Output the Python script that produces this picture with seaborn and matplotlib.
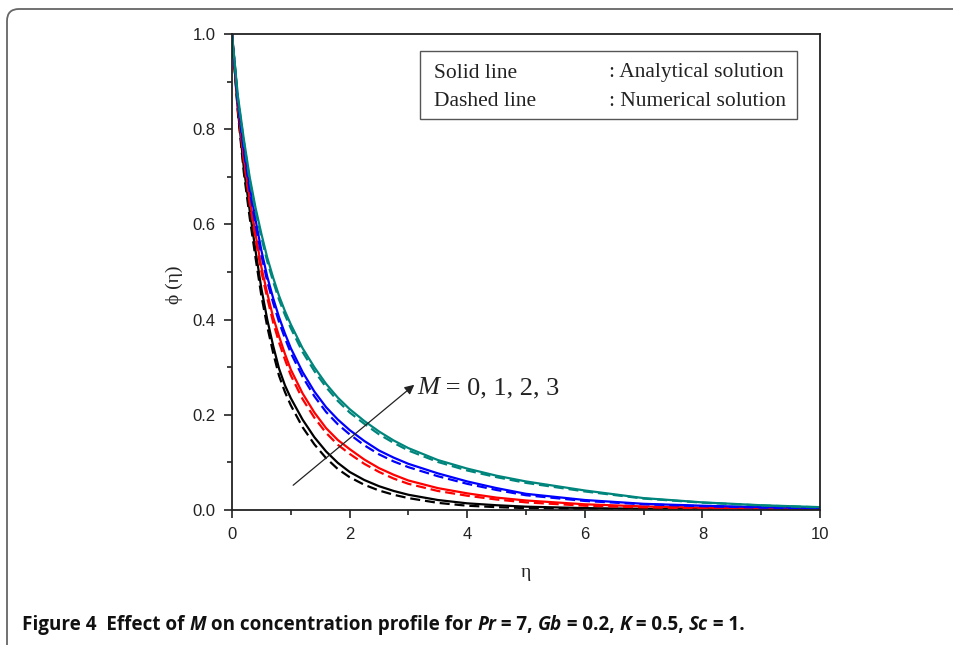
import numpy as np
import pandas as pd
import seaborn as sns
import matplotlib
matplotlib.use("Agg")
import matplotlib.pyplot as plt
from matplotlib.patches import FancyBboxPatch, Rectangle

# ---------------- data ----------------
eta = [0, 0.1, 0.2, 0.3, 0.4, 0.5, 0.6, 0.7, 0.8, 0.9, 1.0, 1.2, 1.4, 1.6, 1.8, 2.0,
       2.25, 2.5, 2.75, 3.0, 3.5, 4.0, 4.5, 5.0, 6.0, 7.0, 8.0, 9.0, 10.0]

m0_analytical = [1.0, 0.84, 0.72, 0.63, 0.545, 0.465, 0.40, 0.345, 0.297, 0.262, 0.235, 0.19,
                 0.153, 0.123, 0.099, 0.080, 0.063, 0.05, 0.04, 0.032, 0.021, 0.014, 0.010,
                 0.007, 0.004, 0.0025, 0.0015, 0.001, 0.0008]
m1_analytical = [1.0, 0.85, 0.74, 0.655, 0.58, 0.51, 0.455, 0.405, 0.365, 0.328, 0.295, 0.245,
                 0.205, 0.172, 0.147, 0.128, 0.106, 0.088, 0.074, 0.062, 0.046, 0.035, 0.026,
                 0.02, 0.012, 0.0075, 0.005, 0.0035, 0.0025]
m2_analytical = [1.0, 0.86, 0.76, 0.68, 0.61, 0.545, 0.49, 0.445, 0.405, 0.371, 0.34, 0.29,
                 0.249, 0.216, 0.19, 0.168, 0.145, 0.125, 0.11, 0.097, 0.077, 0.060, 0.046,
                 0.034, 0.021, 0.013, 0.009, 0.006, 0.004]
m3_analytical = [1.0, 0.87, 0.78, 0.70, 0.635, 0.58, 0.53, 0.488, 0.45, 0.418, 0.39, 0.34,
                 0.30, 0.265, 0.236, 0.212, 0.187, 0.165, 0.146, 0.13, 0.105, 0.087, 0.072,
                 0.06, 0.041, 0.025, 0.016, 0.010, 0.006]

m0_numerical = [1.0, 0.835, 0.71, 0.615, 0.53, 0.45, 0.385, 0.33, 0.282, 0.248, 0.22, 0.174,
                0.138, 0.109, 0.086, 0.069, 0.053, 0.041, 0.032, 0.025, 0.015, 0.009, 0.006,
                0.004, 0.002, 0.0012, 0.0008, 0.0005, 0.0004]
m1_numerical = [1.0, 0.845, 0.735, 0.645, 0.57, 0.50, 0.445, 0.394, 0.352, 0.316, 0.283, 0.233,
                0.194, 0.162, 0.137, 0.118, 0.097, 0.080, 0.066, 0.055, 0.040, 0.030, 0.022,
                0.016, 0.009, 0.0055, 0.0035, 0.0025, 0.0018]
m2_numerical = [1.0, 0.855, 0.755, 0.672, 0.60, 0.535, 0.48, 0.435, 0.395, 0.361, 0.33, 0.28,
                0.239, 0.206, 0.180, 0.159, 0.136, 0.117, 0.102, 0.090, 0.071, 0.055, 0.042,
                0.031, 0.019, 0.012, 0.008, 0.005, 0.0035]
m3_numerical = [1.0, 0.865, 0.775, 0.693, 0.628, 0.572, 0.522, 0.48, 0.442, 0.41, 0.382, 0.332,
                0.292, 0.258, 0.229, 0.205, 0.181, 0.159, 0.141, 0.125, 0.101, 0.083, 0.069,
                0.057, 0.039, 0.024, 0.0155, 0.0095, 0.0055]

series_names = ["M = 0", "M = 1", "M = 2", "M = 3"]
series_colors = ["#000000", "#ff0000", "#0000ff", "#00857c"]
analytical = [m0_analytical, m1_analytical, m2_analytical, m3_analytical]
numerical = [m0_numerical, m1_numerical, m2_numerical, m3_numerical]

x_ticks = [0, 2, 4, 6, 8, 10]
y_ticks = [0.0, 0.2, 0.4, 0.6, 0.8, 1.0]
x_tick_labels = ["0", "2", "4", "6", "8", "10"]
y_tick_labels = ["0.0", "0.2", "0.4", "0.6", "0.8", "1.0"]

# ---------------- figure ----------------
sns.set_theme(style="ticks")
plt.rcParams["font.family"] = ["Liberation Sans", "DejaVu Sans"]

W, H = 954, 645
fig = plt.figure(figsize=(W / 100, H / 100), dpi=100)
fig.patch.set_facecolor("white")

ax = fig.add_axes([232 / W, 1 - 510 / H, (820 - 232) / W, (510 - 34) / H])
ax.set_facecolor("white")

for name, col, ya, yn in zip(series_names, series_colors, analytical, numerical):
    sns.lineplot(x=eta, y=ya, ax=ax, color=col, lw=1.6, estimator=None, sort=False)
    sns.lineplot(x=eta, y=yn, ax=ax, color=col, lw=1.6, estimator=None, sort=False,
                 linestyle=(0, (4.5, 2.2)))

ax.set_xlim(0, 10)
ax.set_ylim(0, 1)
ax.set_xticks(x_ticks)
ax.set_xticklabels(x_tick_labels)
ax.set_yticks(y_ticks)
ax.set_yticklabels(y_tick_labels)
ax.set_xticks(np.arange(1, 10, 2), minor=True)
ax.set_yticks(np.arange(0.1, 1.0, 0.2), minor=True)
ax.tick_params(axis="both", which="major", direction="out", length=6, width=1.2,
               color="#222222", labelsize=12, labelcolor="#222222", pad=6)
ax.tick_params(axis="both", which="minor", direction="out", length=3.5, width=1.2,
               color="#222222")
ax.tick_params(top=False, right=False, which="both")
for sp in ax.spines.values():
    sp.set_visible(True)
    sp.set_color("#222222")
    sp.set_linewidth(1.3)

serif = ["Liberation Serif", "DejaVu Serif"]
ax.set_xlabel("η", family=serif, fontsize=14, labelpad=16, color="#222222")
ax.set_ylabel("ϕ (η)", family=serif, fontsize=14, color="#222222")
ax.yaxis.set_label_coords((183 - 232) / 588, (510 - 285) / 476)

# legend-like box
ax.add_patch(Rectangle(((420 - 232) / 58.8, (510 - 119) / 476), (797 - 420) / 58.8,
                       (119 - 51) / 476, transform=ax.transData, fill=False,
                       edgecolor="#555555", lw=1.0))
fs_leg = 15.5
ax.text((434 - 232) / 58.8, (510 - 73) / 476, "Solid line", family=serif, fontsize=fs_leg,
        va="center", ha="left", color="#222222")
ax.text((434 - 232) / 58.8, (510 - 101) / 476, "Dashed line", family=serif, fontsize=fs_leg,
        va="center", ha="left", color="#222222")
ax.text((609 - 232) / 58.8, (510 - 73) / 476, ": Analytical solution", family=serif,
        fontsize=fs_leg, va="center", ha="left", color="#222222")
ax.text((609 - 232) / 58.8, (510 - 101) / 476, ": Numerical solution", family=serif,
        fontsize=fs_leg, va="center", ha="left", color="#222222")

# arrow annotation
ax.annotate("", xy=(3.1, 0.263), xytext=(1.04, 0.052),
            arrowprops=dict(arrowstyle="-|>", color="#222222", lw=0.9,
                            mutation_scale=14, shrinkA=0, shrinkB=0))

fig.canvas.draw()
renderer = fig.canvas.get_renderer()


def draw_pieces(pieces, x_px, y_px, **common):
    """Draw consecutive text pieces starting at pixel position (left, baseline)."""
    x = x_px
    for txt, kw in pieces:
        t = fig.text(x / W, 1 - y_px / H, txt, ha="left", va="baseline", **common, **kw)
        bb = t.get_window_extent(renderer=renderer)
        x += bb.width
    return x


draw_pieces([("M", dict(style="italic")), (" = 0, 1, 2, 3", {})], 417, 394,
            family=serif, fontsize=19, color="#222222")

cap_font = ["Open Sans", "DejaVu Sans"]
cap = [("Figure 4  Effect of ", {}), ("M", dict(style="italic")),
       (" on concentration profile for ", {}), ("Pr", dict(style="italic")),
       (" = 7, ", {}), ("Gb", dict(style="italic")), (" = 0.2, ", {}),
       ("K", dict(style="italic")), (" = 0.5, ", {}), ("Sc", dict(style="italic")),
       (" = 1.", {})]
draw_pieces(cap, 22, 630, family=cap_font, fontsize=13.6, weight="bold",
            color="#111111")

# frame around the figure
frame = FancyBboxPatch((7, -30), 990, 645 - 9 + 30,
                       boxstyle="round,pad=0,rounding_size=12",
                       transform=None, fill=False, edgecolor="#666666", lw=1.3,
                       clip_on=False)
fig.patches.append(frame)

fig.savefig("out.png", dpi=100, facecolor="white")
